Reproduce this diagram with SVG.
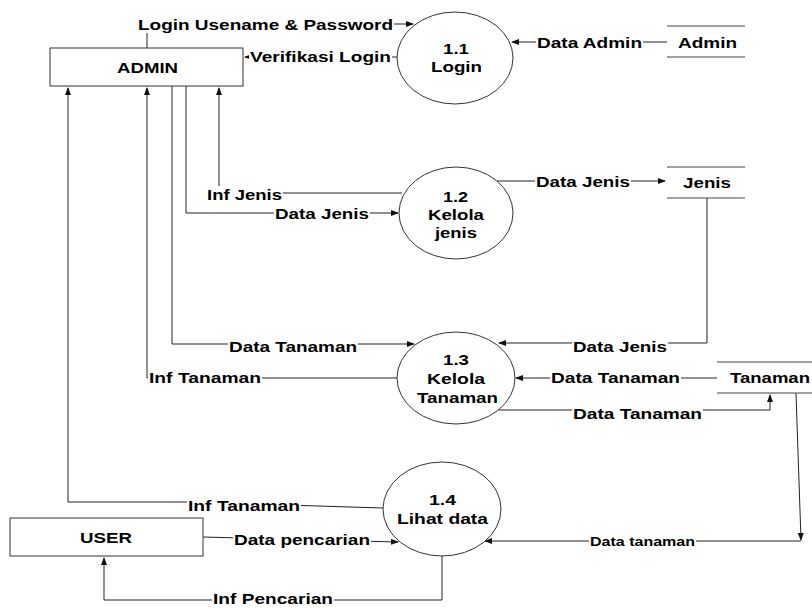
<svg xmlns="http://www.w3.org/2000/svg" width="812" height="608" viewBox="0 0 812 608">
<style>
  .t { font-family: "Liberation Sans", Arial, sans-serif; font-weight: bold; font-size: 15.5px; fill: #000; }
  .s { font-size: 12.5px; }
  .box { fill: #fff; stroke: #333; stroke-width: 1; }
  .proc { fill: #fff; stroke: #333; stroke-width: 1; }
  .store { stroke: #444; stroke-width: 1; fill: none; }
  .ln { fill: none; stroke: #222; stroke-width: 1; }
  .arr { marker-end: url(#ah); }
  .bg { fill: #fff; }
</style>
<defs>
  <marker id="ah" markerWidth="8" markerHeight="6" refX="7" refY="3" orient="auto" markerUnits="userSpaceOnUse">
    <path d="M0,0 L8,3 L0,6 Z" fill="#111"/>
  </marker>
</defs>
<rect width="812" height="608" fill="#fff"/>

<g id="connectors">
  <path class="ln arr" d="M147,48 V24 H413"/>
  <path class="ln arr" d="M397,57 H245"/>
  <path class="ln arr" d="M667,42 H512"/>
  <path class="ln arr" d="M402,193 H219 V88"/>
  <path class="ln arr" d="M186,86 V213 H398"/>
  <path class="ln arr" d="M497,181 H665"/>
  <path class="ln arr" d="M707,198 V343 H499"/>
  <path class="ln arr" d="M172,86 V344 H414"/>
  <path class="ln arr" d="M397,378 H147 V88"/>
  <path class="ln arr" d="M717,378 H516"/>
  <path class="ln arr" d="M497,410 H770 V395"/>
  <path class="ln arr" d="M796,393 L801,540"/>
  <path class="ln arr" d="M801,541 H485"/>
  <path class="ln arr" d="M383,508 L188,502 H68 V88"/>
  <path class="ln arr" d="M203,537 L398,542"/>
  <path class="ln arr" d="M442,556 V600 H104 V558"/>

  <rect class="bg" x="137" y="17" width="257" height="16"/>
  <text class="t" x="138" y="30" textLength="255" lengthAdjust="spacingAndGlyphs">Login Usename &amp; Password</text>
  <rect class="bg" x="249" y="49" width="143" height="16"/>
  <text class="t" x="250" y="62" textLength="141" lengthAdjust="spacingAndGlyphs">Verifikasi Login</text>
  <rect class="bg" x="536" y="35" width="107" height="16"/>
  <text class="t" x="537" y="48" textLength="105" lengthAdjust="spacingAndGlyphs">Data Admin</text>
  <rect class="bg" x="206" y="186" width="77" height="17"/>
  <text class="t" x="207" y="200" textLength="75" lengthAdjust="spacingAndGlyphs">Inf Jenis</text>
  <rect class="bg" x="274" y="206" width="96" height="16"/>
  <text class="t" x="275" y="219" textLength="94" lengthAdjust="spacingAndGlyphs">Data Jenis</text>
  <rect class="bg" x="535" y="174" width="96" height="16"/>
  <text class="t" x="536" y="187" textLength="94" lengthAdjust="spacingAndGlyphs">Data Jenis</text>
  <rect class="bg" x="228" y="339" width="130" height="16"/>
  <text class="t" x="229" y="352" textLength="128" lengthAdjust="spacingAndGlyphs">Data Tanaman</text>
  <rect class="bg" x="148" y="370" width="114" height="16"/>
  <text class="t" x="149" y="383" textLength="112" lengthAdjust="spacingAndGlyphs">Inf Tanaman</text>
  <rect class="bg" x="572" y="339" width="96" height="16"/>
  <text class="t" x="573" y="352" textLength="94" lengthAdjust="spacingAndGlyphs">Data Jenis</text>
  <rect class="bg" x="550" y="370" width="131" height="16"/>
  <text class="t" x="551" y="383" textLength="129" lengthAdjust="spacingAndGlyphs">Data Tanaman</text>
  <rect class="bg" x="572" y="406" width="131" height="16"/>
  <text class="t" x="573" y="419" textLength="129" lengthAdjust="spacingAndGlyphs">Data Tanaman</text>
  <rect class="bg" x="187" y="497" width="114" height="17"/>
  <text class="t" x="188" y="511" textLength="112" lengthAdjust="spacingAndGlyphs">Inf Tanaman</text>
  <rect class="bg" x="233" y="531" width="138" height="17"/>
  <text class="t" x="234" y="545" textLength="136" lengthAdjust="spacingAndGlyphs">Data pencarian</text>
  <rect class="bg" x="212" y="591" width="122" height="16"/>
  <text class="t" x="213" y="604" textLength="120" lengthAdjust="spacingAndGlyphs">Inf Pencarian</text>
  <rect class="bg" x="589" y="535" width="107" height="13"/>
  <text class="t s" x="590" y="546" textLength="105" lengthAdjust="spacingAndGlyphs">Data tanaman</text>
</g>

<g id="admin">
  <rect class="box" x="50" y="48" width="193" height="38"/>
  <text class="t" x="117" y="73" textLength="61" lengthAdjust="spacingAndGlyphs">ADMIN</text>
</g>
<g id="user">
  <rect class="box" x="10" y="518" width="193" height="38"/>
  <text class="t" x="80" y="543" textLength="52" lengthAdjust="spacingAndGlyphs">USER</text>
</g>

<g id="p1-1">
  <ellipse class="proc" cx="455" cy="58" rx="58" ry="46"/>
  <text class="t" x="443" y="54" textLength="26" lengthAdjust="spacingAndGlyphs">1.1</text>
  <text class="t" x="431" y="72" textLength="51" lengthAdjust="spacingAndGlyphs">Login</text>
</g>
<g id="p1-2">
  <ellipse class="proc" cx="456" cy="213" rx="57" ry="46"/>
  <text class="t" x="443" y="202" textLength="25" lengthAdjust="spacingAndGlyphs">1.2</text>
  <text class="t" x="428" y="220" textLength="56" lengthAdjust="spacingAndGlyphs">Kelola</text>
  <text class="t" x="435" y="238" textLength="42" lengthAdjust="spacingAndGlyphs">jenis</text>
</g>
<g id="p1-3">
  <ellipse class="proc" cx="456" cy="378" rx="59" ry="46"/>
  <text class="t" x="443" y="365" textLength="26" lengthAdjust="spacingAndGlyphs">1.3</text>
  <text class="t" x="427" y="384" textLength="58" lengthAdjust="spacingAndGlyphs">Kelola</text>
  <text class="t" x="417" y="403" textLength="81" lengthAdjust="spacingAndGlyphs">Tanaman</text>
</g>
<g id="p1-4">
  <ellipse class="proc" cx="442" cy="509" rx="59" ry="47"/>
  <text class="t" x="429" y="505" textLength="27" lengthAdjust="spacingAndGlyphs">1.4</text>
  <text class="t" x="397" y="524" textLength="91" lengthAdjust="spacingAndGlyphs">Lihat data</text>
</g>

<g id="store-admin">
  <path class="store" d="M667,26 H745 M667,57 H745"/>
  <text class="t" x="678" y="48" textLength="59" lengthAdjust="spacingAndGlyphs">Admin</text>
</g>
<g id="store-jenis">
  <path class="store" d="M667,167 H745 M667,198 H745"/>
  <text class="t" x="683" y="188" textLength="48" lengthAdjust="spacingAndGlyphs">Jenis</text>
</g>
<g id="store-tanaman">
  <path class="store" d="M717,362 H812 M717,393 H812"/>
  <text class="t" x="730" y="383" textLength="80" lengthAdjust="spacingAndGlyphs">Tanaman</text>
</g>
</svg>
